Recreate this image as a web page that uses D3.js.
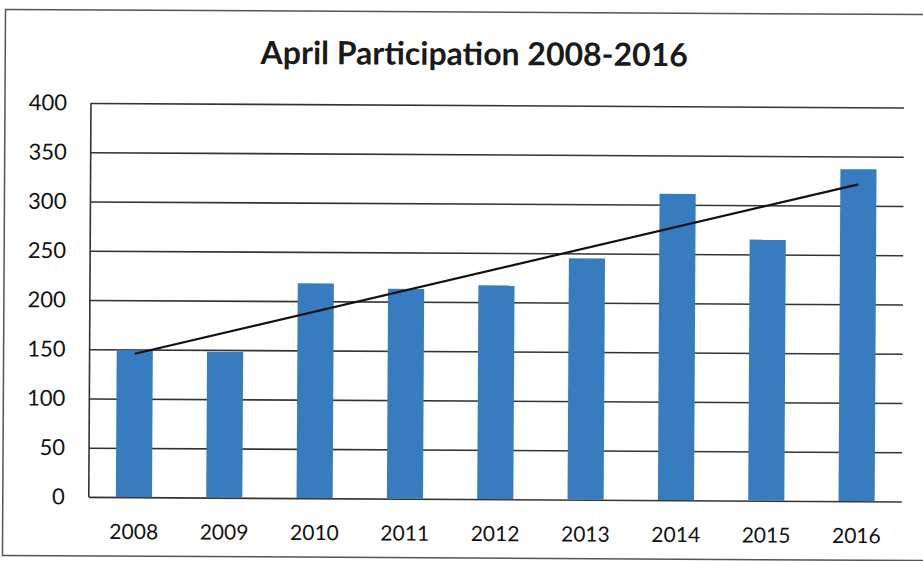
<!DOCTYPE html>
<html>
<head>
<meta charset="utf-8">
<script src="https://cdn.jsdelivr.net/npm/d3@7"></script>
<style>
  html, body { margin: 0; padding: 0; background: #fff; }
  svg { display: block; }
</style>
</head>
<body>
<svg id="chart" width="923" height="561"></svg>
<script>
// April participation counts by year
const years = ["2008", "2009", "2010", "2011", "2012", "2013", "2014", "2015", "2016"];
const participants = [149, 148, 218, 213, 217, 245, 311, 265, 337];
const yTicks = [0, 50, 100, 150, 200, 250, 300, 350, 400];
const titleText = "April Participation 2008-2016";

const W = 923, H = 561;
const margin = { left: 90, right: 20, top: 105, bottom: 62 };
const plotW = W - margin.left - margin.right;
const plotH = H - margin.top - margin.bottom;

const svg = d3.select("#chart");
// whole sheet sits slightly tilted
const root = svg.append("g").attr("transform", "rotate(0.32, 461, 280)");

// outer chart border
root.append("rect")
  .attr("x", 4).attr("y", 12)
  .attr("width", W + 20).attr("height", 546)
  .attr("fill", "none").attr("stroke", "#555").attr("stroke-width", 1.5);

root.append("text")
  .attr("x", 473).attr("y", 65)
  .attr("text-anchor", "middle")
  .attr("font-family", "Lato, 'Open Sans', sans-serif")
  .attr("font-weight", "bold")
  .attr("font-size", 32)
  .attr("fill", "#1a1a1a")
  .text(titleText);

const g = root.append("g").attr("transform", `translate(${margin.left},${margin.top})`);

const x = d3.scaleBand().domain(years).range([0, plotW]).paddingInner(0.6).paddingOuter(0.3);
const y = d3.scaleLinear().domain([0, 400]).range([plotH, 0]);

// horizontal gridlines + value labels
const yAxis = g.append("g")
  .call(d3.axisLeft(y).tickValues(yTicks).tickSize(-plotW).tickPadding(24));
yAxis.select(".domain").remove();
yAxis.selectAll(".tick line").attr("stroke", "#333").attr("stroke-width", 1.6);
yAxis.selectAll(".tick text")
  .attr("font-family", "Lato, 'Open Sans', sans-serif")
  .attr("font-size", 22).attr("fill", "#111");

// left axis line
g.append("line")
  .attr("x1", 0).attr("x2", 0).attr("y1", y(400)).attr("y2", y(0))
  .attr("stroke", "#333").attr("stroke-width", 1.6);

// bars
g.selectAll("rect.bar")
  .data(participants)
  .join("rect")
  .attr("class", "bar")
  .attr("x", (d, i) => x(years[i]))
  .attr("y", d => y(d))
  .attr("width", x.bandwidth())
  .attr("height", d => y(0) - y(d))
  .attr("fill", "#377cbe");

// category labels
const xAxis = g.append("g")
  .attr("transform", `translate(0,${plotH})`)
  .call(d3.axisBottom(x).tickSize(0).tickPadding(27));
xAxis.select(".domain").remove();
xAxis.selectAll(".tick text")
  .attr("font-family", "Lato, 'Open Sans', sans-serif")
  .attr("font-size", 21).attr("fill", "#111");

// linear trendline (least squares over the yearly values)
const n = participants.length;
const idx = d3.range(n);
const mx = d3.mean(idx), my = d3.mean(participants);
const slope = d3.sum(idx, i => (i - mx) * (participants[i] - my)) / d3.sum(idx, i => (i - mx) ** 2);
const intercept = my - slope * mx;
const cx = i => x(years[i]) + x.bandwidth() / 2;
g.append("line")
  .attr("x1", cx(0)).attr("y1", y(intercept))
  .attr("x2", cx(n - 1)).attr("y2", y(intercept + slope * (n - 1)))
  .attr("stroke", "#111").attr("stroke-width", 2.2);
</script>
</body>
</html>
